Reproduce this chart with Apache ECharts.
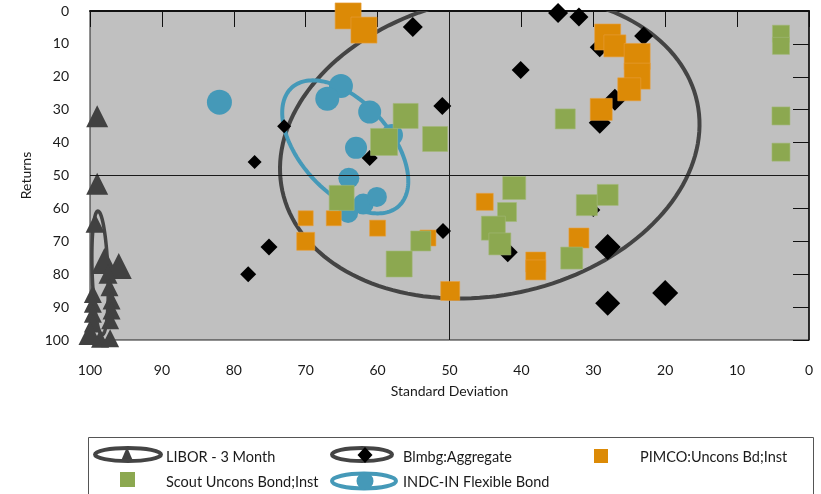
<!DOCTYPE html>
<html><head><meta charset="utf-8">
<script src="https://cdn.jsdelivr.net/npm/echarts@6/dist/echarts.min.js"></script>
<style>html,body{margin:0;padding:0;background:#fff}#c{width:821px;height:494px}</style>
</head><body><div id="c"></div>
<script>
// ---------- DATA ----------
const seriesNames = ['LIBOR - 3 Month','Blmbg:Aggregate','PIMCO:Uncons Bd;Inst','Scout Uncons Bond;Inst','INDC-IN Flexible Bond'];
const xTitle = 'Standard Deviation';
const yTitle = 'Returns';
// [standard deviation, return]
const liborPoints = [[99.0,32],[99.0,52.5],[99.3,64.5],[98.0,76],[96.0,77.5],[97.5,80],[97.3,84],[99.6,86],[97.0,88],[99.6,89],[97.0,91],[99.6,92],[97.2,94],[99.6,95],[98.6,99.6],[100,98],[97.2,99.5]];
const blmbgPoints = [[55.1,4.9],[34.9,0.6],[32.0,1.8],[23.0,7.6],[40.1,17.9],[51.0,28.9],[73.0,35],[77.1,45.9],[61.1,44.7],[29.1,11],[27.0,27],[29.1,34],[50.9,66.9],[41.9,73.3],[30.0,60.5],[28.0,71.7],[28.0,88.8],[20.0,85.7],[75.1,71.7],[78.0,80]];
const pimcoPoints = [[64.1,1.5],[61.9,5.8],[28.0,7.9],[27.0,10.6],[23.9,13.8],[23.9,19.8],[25.0,23.8],[28.9,29.9],[45.1,58],[53.0,69],[32.0,69],[38.0,76.3],[38.0,78.7],[49.9,85.1],[70.0,63],[66.1,63],[70.0,70],[60.0,66]];
const scoutPoints = [[3.9,6.9],[3.9,10.6],[3.9,31.9],[3.9,42.9],[33.9,32.8],[56.1,31.9],[52.0,38.9],[59.1,39.8],[65.0,56.8],[41.0,53.8],[42.0,61.1],[43.9,66],[43.0,70.8],[30.9,59],[28.0,55.9],[33.0,75.1],[54.0,69.9],[57.0,76.9]];
const indcPoints = [[82,27.7],[65.1,22.8],[67,26.7],[61.1,30.7],[58,37.7],[63,41.6],[64,50.8],[62,58.7],[60.1,56.5],[64.1,61.4]];
// ellipse: [centre std dev, centre return, semi-axis (std dev units), semi-axis (return units), tilt deg]
const liborEllipse = [98.6, 79.6, 1.1, 18.8, -2];
const blmbgEllipse = [44.4, 41.2, 29.5, 45.2, -12];
const indcEllipse  = [64.5, 41.3, 11.1, 13.7, 48];

// ---------- STYLE ----------
const liborSizes = [22,22,19,26,26,19,18,18,18,18,18,18,18,18,18,23,18];
const blmbgSizes = [20,20,19,19,18,18,14,14,16,20,22,22,16,20,14,26,25,26,17,16];
const pimcoSizes = [26,26,26,22,26,26,23,22,17,16,20,20,20,19,15,15,18,16];
const scoutSizes = [17,17,18,18,20,25,25,27,25,23,19,24,22,21,21,22,20,26];
const indcSizes  = [25,24,24,23,22,22,21,21,20,20];
const C = {libor:'#414141', blmbg:'#000000', pimco:'#DC8A06', scout:'#8CA850', indc:'#4599B8', ell:'#444444', bg:'#C0C0C0', txt:'#1a1a1a'};
const FONT = 'Lato, "Open Sans", sans-serif';

function ellipseRender(color, width){
  return function(params, api){
    const c = api.coord([api.value(0), api.value(1)]);
    const s = api.size([1,1]);
    const a = api.value(2)*Math.abs(s[0]), b = api.value(3)*Math.abs(s[1]);
    const phi = api.value(4)*Math.PI/180;
    const pts = [];
    const N = 160;
    for (let i=0;i<N;i++){
      const t = i/N*2*Math.PI;
      pts.push([c[0]+a*Math.cos(t)*Math.cos(phi)-b*Math.sin(t)*Math.sin(phi),
                c[1]+a*Math.cos(t)*Math.sin(phi)+b*Math.sin(t)*Math.cos(phi)]);
    }
    const cs = params.coordSys;
    return {type:'group',
      clipPath:{type:'rect', shape:{x:cs.x, y:cs.y, width:cs.width, height:cs.height}},
      children:[{type:'polygon', shape:{points:pts}, style:{fill:'none', stroke:color, lineWidth:width}}]};
  };
}
function pts(arr, sizes){ return arr.map((p,i)=>({value:p, symbolSize:sizes[i]})); }

const chart = echarts.init(document.getElementById('c'), null, {renderer:'canvas'});
const axisCommon = {
  type:'value', min:0, max:100, interval:10, inverse:true,
  splitLine:{show:false},
  axisLine:{show:true, lineStyle:{color:'#111', width:1.5}},
  axisTick:{show:true, length:16, lineStyle:{color:'#111', width:1}},
  axisLabel:{color:C.txt, fontFamily:FONT, fontSize:14},
  nameTextStyle:{color:C.txt, fontFamily:FONT, fontSize:14}
};
const LF = '14.5px '+FONT;
const option = {
  animation:false,
  backgroundColor:'#fff',
  grid:{left:90, right:12, top:11, bottom:154, show:true, backgroundColor:C.bg, borderColor:'#222', borderWidth:1},
  xAxis:Object.assign({}, axisCommon, {position:'bottom', name:xTitle, nameLocation:'middle', nameGap:44,
      axisLine:{show:true, lineStyle:{color:'#111', width:2}},
      axisLabel:Object.assign({}, axisCommon.axisLabel, {margin:23})}),
  yAxis:Object.assign({}, axisCommon, {position:'left', name:yTitle, nameLocation:'middle', nameGap:56,
      axisLabel:Object.assign({}, axisCommon.axisLabel, {margin:21})}),
  series:[
    {type:'custom', name:'blmbgEll', renderItem:ellipseRender(C.ell,4), data:[blmbgEllipse], encode:{x:0,y:1}, silent:true, z:2,
     markLine:{silent:true, symbol:'none', label:{show:false}, lineStyle:{color:'#1a1a1a', width:1, type:'solid'}, data:[{xAxis:50},{yAxis:50}]}},
    {type:'custom', name:'liborEll', renderItem:ellipseRender(C.ell,3.5), data:[liborEllipse], encode:{x:0,y:1}, silent:true, z:3},
    {type:'scatter', name:seriesNames[0], symbol:'triangle', data:pts(liborPoints, liborSizes), itemStyle:{color:C.libor, opacity:1}, clip:false, z:3},
    {type:'custom', name:'indcEll', renderItem:ellipseRender(C.indc,4), data:[indcEllipse], encode:{x:0,y:1}, silent:true, z:4},
    {type:'scatter', name:seriesNames[4], symbol:'circle', data:pts(indcPoints, indcSizes), itemStyle:{color:C.indc, opacity:1}, z:4},
    {type:'scatter', name:seriesNames[1], symbol:'diamond', data:pts(blmbgPoints, blmbgSizes), itemStyle:{color:C.blmbg, opacity:1}, z:5},
    {type:'scatter', name:seriesNames[2], symbol:'rect', data:pts(pimcoPoints, pimcoSizes), itemStyle:{color:C.pimco, opacity:1, borderColor:'#E8A040', borderWidth:0.6}, z:6},
    {type:'scatter', name:seriesNames[3], symbol:'rect', data:pts(scoutPoints, scoutSizes), itemStyle:{color:C.scout, opacity:1, borderColor:'#A2B878', borderWidth:0.6}, z:7}
  ],
  graphic:[
    {type:'rect', shape:{x:88.5, y:437.5, width:725, height:70}, style:{fill:'none', stroke:'#555', lineWidth:1}, silent:true},
    // LIBOR
    {type:'polygon', shape:{points:[[127,447],[120.5,462],[133.5,462]]}, style:{fill:C.libor}},
    {type:'ellipse', shape:{cx:128, cy:454.5, rx:33, ry:6.5}, style:{fill:'none', stroke:C.ell, lineWidth:4}},
    {type:'text', x:166, y:457, style:{text:seriesNames[0], fill:C.txt, font:LF, verticalAlign:'middle'}},
    // Blmbg
    {type:'ellipse', shape:{cx:362, cy:454.5, rx:30, ry:6.5}, style:{fill:'none', stroke:C.ell, lineWidth:4}},
    {type:'polygon', shape:{points:[[365,447],[372.5,455],[365,463],[357.5,455]]}, style:{fill:'#000'}},
    {type:'text', x:403, y:457, style:{text:seriesNames[1], fill:C.txt, font:LF, verticalAlign:'middle'}},
    // PIMCO
    {type:'rect', shape:{x:594, y:449, width:14, height:14}, style:{fill:C.pimco}},
    {type:'text', x:640, y:457, style:{text:seriesNames[2], fill:C.txt, font:LF, verticalAlign:'middle'}},
    // Scout
    {type:'rect', shape:{x:120, y:472, width:15, height:15}, style:{fill:C.scout}},
    {type:'text', x:166, y:482, style:{text:seriesNames[3], fill:C.txt, font:LF, verticalAlign:'middle'}},
    // INDC
    {type:'ellipse', shape:{cx:364, cy:481, rx:32, ry:7.5}, style:{fill:'none', stroke:C.indc, lineWidth:4}},
    {type:'circle', shape:{cx:365, cy:481, r:8.5}, style:{fill:C.indc}},
    {type:'text', x:403, y:482, style:{text:seriesNames[4], fill:C.txt, font:LF, verticalAlign:'middle'}}
  ]
};
chart.setOption(option);
</script>
</body></html>
